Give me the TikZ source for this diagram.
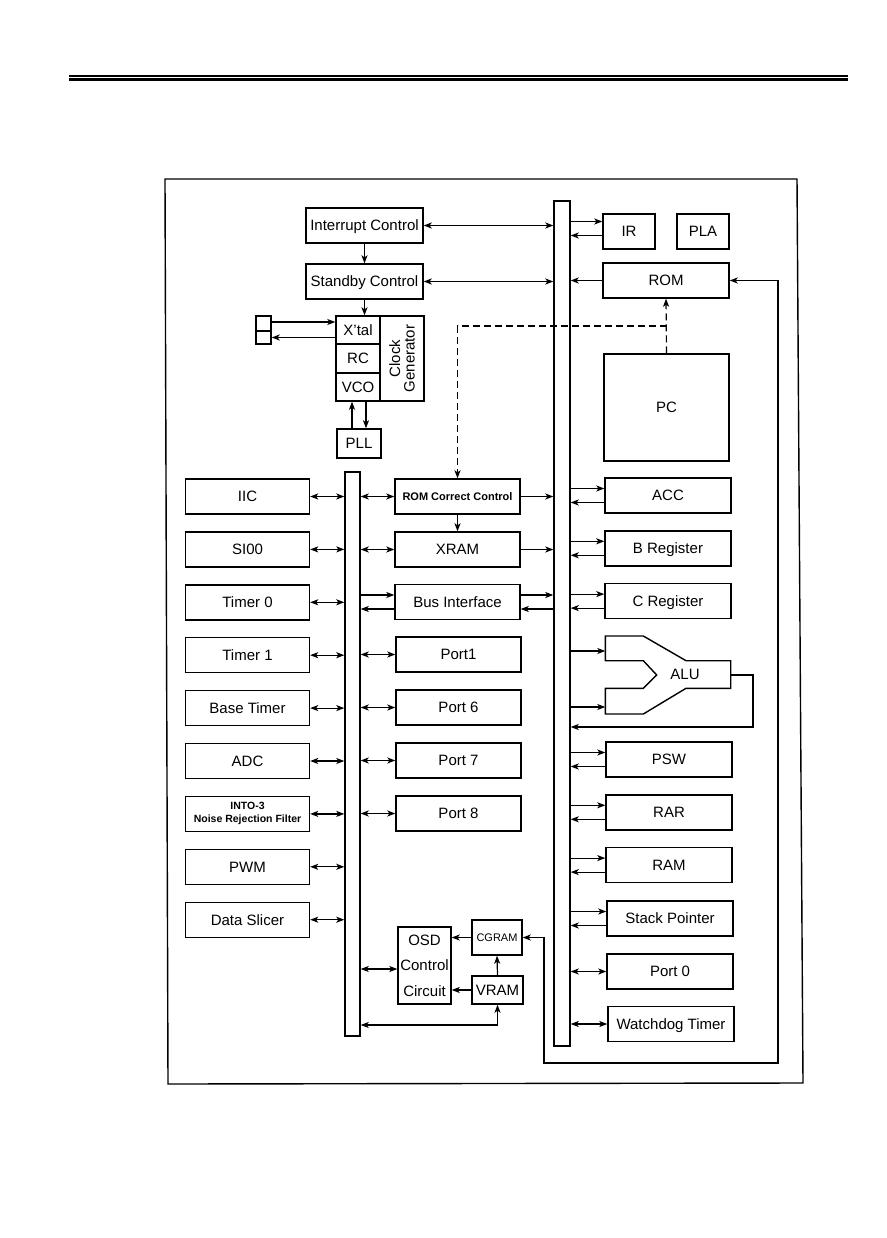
\documentclass[tikz,border=0pt]{standalone}
\usepackage{fontspec}
\setmainfont{Liberation Sans}
\usetikzlibrary{arrows.meta}
\begin{document}
\begin{tikzpicture}[x=1pt,y=-1pt,
  >={Stealth[length=8pt,width=6pt,inset=2pt]},
  blk/.style={draw,line width=1.4pt,inner sep=0pt,font=\fontsize{15}{18}\selectfont,text height=10.8pt,text depth=0pt},
  multi/.style={text height=,text depth=},
  lbox/.style={blk,minimum width=124pt,minimum height=35pt},
  mbox/.style={blk,minimum width=125pt,minimum height=35pt},
  rbox/.style={blk,minimum width=126pt,minimum height=35pt},
  conn/.style={line width=1.2pt},
  dsh/.style={line width=1.2pt,dash pattern=on 7pt off 4pt}]
\useasboundingbox (0,0) rectangle (886,1238);
% header rules
\draw[line width=1.3pt] (69,76) -- (848,76);
\draw[line width=3pt] (69,79.7) -- (848,79.7);
% frame
\draw[line width=1.4pt] (165,179) -- (797,179) -- (803,1083) -- (168,1084) -- cycle;

% top left
\node[blk,minimum width=117pt,minimum height=35pt] (int) at (364.5,225.5) {Interrupt Control};
\node[blk,minimum width=117pt,minimum height=35pt] (stb) at (364.5,281.5) {Standby Control};
\node[blk,minimum width=44pt,minimum height=28pt] (xtal) at (358,330) {X'tal};
\node[blk,minimum width=44pt,minimum height=29pt] (rc) at (358,358.5) {RC};
\node[blk,minimum width=44pt,minimum height=28pt] (vco) at (358,387) {VCO};
\node[blk,minimum width=44pt,minimum height=85pt] (cg) at (402,358.5) {};
\node[rotate=90,align=center,font=\fontsize{15}{14.5}\selectfont,inner sep=0pt] (cgt) at (cg.center) {Clock\\Generator};
\node[blk,minimum width=15pt,minimum height=15pt] (p1) at (263.5,323.5) {};
\node[blk,minimum width=15pt,minimum height=13pt] (p2) at (263.5,337.5) {};
\node[blk,minimum width=44pt,minimum height=29pt] (pll) at (359,443.5) {PLL};
\draw[conn,->] (int.south) -- (stb.north);
\draw[conn,->] (stb.south) -- (stb.south |- xtal.north);
\draw[conn,->] ([yshift=1.5pt]p1.east) -- ([yshift=1.5pt]p1.east -| xtal.west);
\draw[conn,<-] (p2.east) -- (p2.east -| xtal.west);
\draw[conn,->] ([xshift=-7pt]pll.north) -- ([xshift=-7pt]pll.north |- vco.south);
\draw[conn,<-] ([xshift=7pt]pll.north) -- ([xshift=7pt]pll.north |- vco.south);

% buses
\node[blk,minimum width=16pt,minimum height=845pt] (mbus) at (562,623.5) {};
\node[blk,minimum width=15pt,minimum height=564pt] (lbus) at (352.5,754) {};

\draw[conn,<->] (int.east) -- (int.east -| mbus.west);
\draw[conn,<->] (stb.east) -- (stb.east -| mbus.west);

% top right
\node[blk,minimum width=52pt,minimum height=35pt] (ir) at (629,231.5) {IR};
\node[blk,minimum width=52pt,minimum height=35pt] (pla) at (703,231.5) {PLA};
\node[blk,minimum width=126pt,minimum height=35pt] (rom) at (666,280.5) {ROM};
\node[blk,minimum width=125pt,minimum height=107pt] (pc) at (666.5,407.5) {PC};
\draw[conn,->] ([yshift=10pt]ir.west -| mbus.east) -- ([yshift=10pt]ir.west);
\draw[conn,<-] ([yshift=-4pt]ir.west -| mbus.east) -- ([yshift=-4pt]ir.west);
\draw[conn,->] (rom.west) -- (rom.west -| mbus.east);

% left column
\node[lbox] (iic) at (247.5,496.5) {IIC};
\node[lbox] (sio) at (247.5,549.4) {SI00};
\node[lbox] (tm0) at (247.5,602.3) {Timer 0};
\node[lbox] (tm1) at (247.5,655.2) {Timer 1};
\node[lbox] (bt) at (247.5,708.1) {Base Timer};
\node[lbox] (adc) at (247.5,761) {ADC};
\node[lbox,multi,align=center,font=\fontsize{10.5}{13}\selectfont\bfseries] (into) at (247.5,813.9) {INTO-3\\Noise Rejection Filter};
\node[lbox] (pwm) at (247.5,866.8) {PWM};
\node[lbox] (ds) at (247.5,919.7) {Data Slicer};
\foreach \n in {iic,sio,tm0,tm1,bt,adc,into,pwm,ds}
  \draw[conn,<->] (\n.east) -- (\n.east -| lbus.west);

% middle column
\node[mbox,font=\fontsize{11}{13}\selectfont\bfseries,text height=8pt] (rcc) at (457.5,496.5) {ROM Correct Control};
\node[mbox] (xram) at (457.5,549.5) {XRAM};
\node[mbox] (bi) at (457.5,602) {Bus Interface};
\node[mbox] (p1b) at (458.5,654.5) {Port1};
\node[mbox] (p6) at (458.5,707.5) {Port 6};
\node[mbox] (p7) at (458.5,760.5) {Port 7};
\node[mbox] (p8) at (458.5,813.5) {Port 8};
\foreach \n in {rcc,xram,p1b,p6,p7,p8}
  \draw[conn,<->] (\n.west -| lbus.east) -- (\n.west);
\draw[conn,->] (rcc.east) -- (rcc.east -| mbus.west);
\draw[conn,->] (xram.east) -- (xram.east -| mbus.west);
\draw[conn,->] (rcc.south) -- (xram.north);
\draw[conn,->] ([yshift=7pt]bi.west -| lbus.east) -- ([yshift=7pt]bi.west);
\draw[conn,<-] ([yshift=-7pt]bi.west -| lbus.east) -- ([yshift=-7pt]bi.west);
\draw[conn,->] ([yshift=7pt]bi.east) -- ([yshift=7pt]bi.east -| mbus.west);
\draw[conn,<-] ([yshift=-7pt]bi.east) -- ([yshift=-7pt]bi.east -| mbus.west);

% dashed path PC -> ROM and -> ROM Correct Control
\coordinate (dk) at (666.5,326);
\draw[dsh,->] (pc.north) -- (rom.south);
\draw[dsh,->] (dk) -- (dk -| rcc.north) -- (rcc.north);

% right column
\node[rbox] (acc) at (668,495.5) {ACC};
\node[rbox] (breg) at (668,548.3) {B Register};
\node[rbox] (creg) at (668,601.1) {C Register};
\node[rbox] (psw) at (669,759.5) {PSW};
\node[rbox] (rar) at (669,812.3) {RAR};
\node[rbox] (ram) at (669,865.1) {RAM};
\node[rbox] (sp) at (670,918.5) {Stack Pointer};
\node[rbox] (p0) at (670,971.5) {Port 0};
\node[rbox] (wdt) at (671,1024) {Watchdog Timer};
\foreach \n in {acc,breg,creg,psw,rar,ram,sp} {
  \draw[conn,->] ([yshift=7pt]\n.west -| mbus.east) -- ([yshift=7pt]\n.west);
  \draw[conn,<-] ([yshift=-7pt]\n.west -| mbus.east) -- ([yshift=-7pt]\n.west);
}
\draw[conn,<->] (p0.west -| mbus.east) -- (p0.west);
\draw[conn,<->] (wdt.west -| mbus.east) -- (wdt.west);

% ALU
\draw[line width=1.4pt] (605.3,636) -- (643.3,636) -- (686,660.7) -- (730.7,660.7) -- (730.7,688.3)
  -- (686,688.3) -- (643.3,714) -- (605.3,714) -- (605.3,688.3) -- (643.3,688.3) -- (656.7,675)
  -- (643.3,660.7) -- (605.3,660.7) -- cycle;
\node[font=\fontsize{15}{18}\selectfont,inner sep=0pt,text height=10.8pt,text depth=0pt] (alu) at (685,674) {ALU};
\coordinate (aluA) at (605.3,651);
\coordinate (aluB) at (605.3,707);
\coordinate (aluO) at (730.7,675);
\coordinate (aluR) at (753,727);
\draw[conn,->] (aluA -| mbus.east) -- (aluA);
\draw[conn,->] (aluB -| mbus.east) -- (aluB);
\draw[conn,->] (aluO) -| (aluR) -- (aluR -| mbus.east);

% OSD
\node[blk,multi,minimum width=53pt,minimum height=77pt,align=center,font=\fontsize{15}{25.5}\selectfont] (osd) at (424.5,965.5) {OSD\\Control\\Circuit};
\node[blk,minimum width=50pt,minimum height=35pt,font=\fontsize{11}{13}\selectfont,text height=8pt] (cgram) at (497,937.5) {CGRAM};
\node[blk,minimum width=51pt,minimum height=28pt] (vram) at (497.5,990) {VRAM};
\draw[conn,->] (cgram.west) -- (cgram.west -| osd.east);
\draw[conn,->] (vram.west) -- (vram.west -| osd.east);
\draw[conn,->] (vram.north) -- (cgram.south);
\draw[conn,<->] ([yshift=-3.5pt]osd.west -| lbus.east) -- ([yshift=-3.5pt]osd.west);
\coordinate (vb) at (497.5,1025);
\draw[conn,<->] (vb -| lbus.east) -| (vram.south);

% feedback line ROM <-> CGRAM
\coordinate (c1) at (544,1063);
\coordinate (c2) at (778,1063);
\draw[conn,<->] (cgram.east) -- (cgram.east -| c1) -- (c1) -- (c2) -- (c2 |- rom.east) -- (rom.east);
\end{tikzpicture}
\end{document}
